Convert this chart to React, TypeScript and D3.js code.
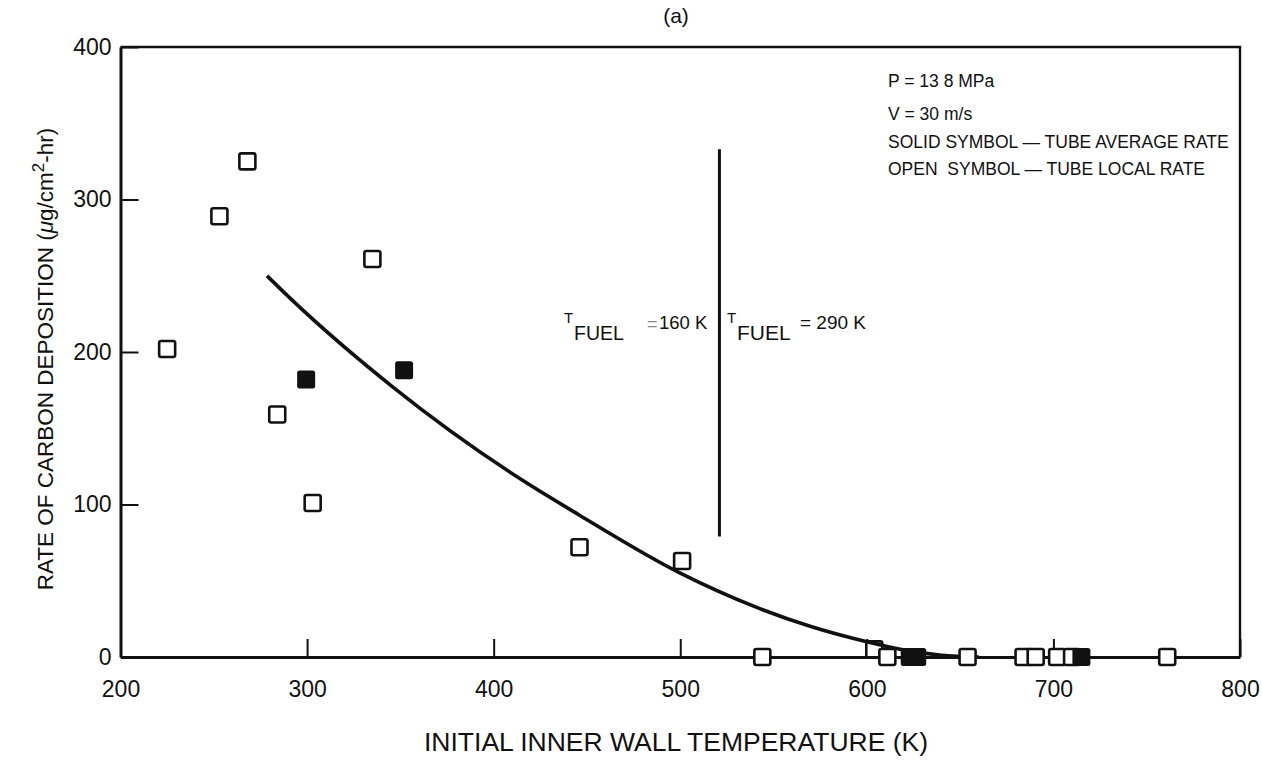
import React, { useEffect, useRef } from 'react'
import * as d3 from 'd3'

// open symbols: tube local rate
const openTemp = [225, 253, 268, 284, 303, 335, 446, 501, 544, 604, 611, 654, 684, 690.5, 702, 710, 761]
const openRate = [202, 289, 325, 159, 101, 261, 72, 63, 0, 5, 0, 0, 0, 0, 0, 0, 0]

// solid symbols: tube average rate
const solidTemp = [299.5, 352, 623, 627, 715]
const solidRate = [182, 188, 0, 0, 0]

// faired curve through the data
const curveTemp = [278.5, 292, 346, 414, 446, 500, 540, 570, 600, 620, 640, 660]
const curveRate = [250, 234, 177, 117, 93, 55, 33, 20, 10, 4.5, 1.2, 0]

const xTicks = [200, 300, 400, 500, 600, 700, 800]
const yTicks = [0, 100, 200, 300, 400]

// fuel temperature divider
const dividerTemp = 521
const dividerRates = [79, 333]

const notes = ['P = 13 8 MPa', 'V = 30 m/s', 'SOLID SYMBOL — TUBE AVERAGE RATE', 'OPEN  SYMBOL — TUBE LOCAL RATE']

const FONT = '"Liberation Sans", Arial, Helvetica, sans-serif'

const App: React.FC = () => {
  const svgRef = useRef<SVGSVGElement>(null)

  useEffect(() => {
    if (!svgRef.current) return
    const svg = d3.select(svgRef.current)
    svg.selectAll('*').remove()

    const left = 120.5, right = 1240, top = 47, bottom = 657

    const x = d3.scaleLinear().domain([200, 800]).range([left, right])
    const y = d3.scaleLinear().domain([0, 400]).range([bottom, top])

    svg.append('rect').attr('width', 1262).attr('height', 760).attr('fill', '#fff')

    // frame (top and right)
    svg.append('path')
      .attr('d', `M${left},${top}H${right}V${bottom}`)
      .attr('fill', 'none')
      .attr('stroke', '#111')
      .attr('stroke-width', 2.4)

    // x axis
    const xAxis = svg.append('g')
      .attr('transform', `translate(0,${bottom})`)
      .call(d3.axisBottom(x).tickValues(xTicks).tickSizeInner(-18).tickSizeOuter(0).tickPadding(24))
    xAxis.select('.domain').attr('stroke', '#111').attr('stroke-width', 3)
    xAxis.selectAll('.tick line').attr('stroke', '#111').attr('stroke-width', 2)
    xAxis.selectAll('.tick text')
      .attr('fill', '#111')
      .style('font-family', FONT)
      .style('font-size', '23px')

    // y axis
    const yAxis = svg.append('g')
      .attr('transform', `translate(${left},0)`)
      .call(d3.axisLeft(y).tickValues(yTicks).tickSizeInner(-18).tickSizeOuter(0).tickPadding(9))
    yAxis.select('.domain').attr('stroke', '#111').attr('stroke-width', 3)
    yAxis.selectAll('.tick line').attr('stroke', '#111').attr('stroke-width', 2)
    yAxis.selectAll('.tick text')
      .attr('fill', '#111')
      .style('font-family', FONT)
      .style('font-size', '23px')

    const s = 16
    const openPt = (sel: any, temps: number[], rates: number[]) =>
      sel.selectAll(null)
        .data(temps)
        .enter()
        .append('rect')
        .attr('x', (d: number) => x(d) - s / 2)
        .attr('y', (d: number, i: number) => y(rates[i]) - s / 2)
        .attr('width', s)
        .attr('height', s)
        .attr('rx', 2)
        .attr('fill', '#fff')
        .attr('stroke', '#111')
        .attr('stroke-width', 2.6)

    // the half-hidden square near 600 K sits under the curve
    openPt(svg.append('g'), openTemp.slice(9, 10), openRate.slice(9, 10))

    // curve
    const line = d3.line<number>()
      .x((d, i) => x(curveTemp[i]))
      .y(d => y(d))
      .curve(d3.curveMonotoneX)
    svg.append('path')
      .datum(curveRate)
      .attr('d', line)
      .attr('fill', 'none')
      .attr('stroke', '#111')
      .attr('stroke-width', 3.6)

    // divider line
    svg.append('line')
      .attr('x1', x(dividerTemp)).attr('x2', x(dividerTemp))
      .attr('y1', y(dividerRates[0])).attr('y2', y(dividerRates[1]))
      .attr('stroke', '#111')
      .attr('stroke-width', 3)

    // open squares
    openPt(svg.append('g'), openTemp.filter((d, i) => i !== 9), openRate.filter((d, i) => i !== 9))

    // solid squares
    const sf = 18
    svg.selectAll('.solid-pt')
      .data(solidTemp)
      .enter()
      .append('rect')
      .attr('class', 'solid-pt')
      .attr('x', d => x(d) - sf / 2)
      .attr('y', (d, i) => y(solidRate[i]) - sf / 2)
      .attr('width', sf)
      .attr('height', sf)
      .attr('rx', 2.5)
      .attr('fill', '#111')

    // title
    svg.append('text')
      .attr('x', 676).attr('y', 23)
      .attr('text-anchor', 'middle')
      .style('font-family', FONT)
      .style('font-size', '21px')
      .attr('fill', '#111')
      .text('(a)')

    // axis labels
    svg.append('text')
      .attr('x', 676).attr('y', 751)
      .attr('text-anchor', 'middle')
      .style('font-family', FONT)
      .style('font-size', '26.5px')
      .attr('fill', '#111')
      .text('INITIAL INNER WALL TEMPERATURE (K)')

    const yl = svg.append('text')
      .attr('transform', 'translate(53,359) rotate(-90)')
      .attr('text-anchor', 'middle')
      .style('font-family', FONT)
      .style('font-size', '22.5px')
      .attr('fill', '#111')
    yl.append('tspan').text('RATE OF CARBON DEPOSITION (')
    yl.append('tspan').style('font-style', 'italic').text('μ')
    yl.append('tspan').text('g/cm')
    yl.append('tspan').attr('dy', -9).style('font-size', '17px').text('2')
    yl.append('tspan').attr('dy', 9).text('-hr)')

    // notes
    svg.selectAll('.note')
      .data(notes)
      .enter()
      .append('text')
      .attr('class', 'note')
      .attr('x', 888)
      .attr('y', (d, i) => [87, 120, 148, 175][i])
      .style('white-space', 'pre')
      .style('font-family', FONT)
      .style('font-size', '17.5px')
      .attr('fill', '#111')
      .text(d => d)

    // T_FUEL labels
    const fuelLabel = (x0: number, fuelSize: number) => {
      const t = svg.append('text')
        .style('font-family', FONT)
        .attr('fill', '#111')
      t.append('tspan').attr('x', x0).attr('y', 323).style('font-size', '15px').text('T')
      t.append('tspan').attr('x', x0 + 10).attr('y', 340).style('font-size', `${fuelSize}px`).text('FUEL')
      return t
    }
    const leftLabel = fuelLabel(564, 19.5)
    leftLabel.append('tspan').attr('x', 647).attr('y', 330).style('font-size', '18px').attr('fill', '#888').text('=')
    leftLabel.append('tspan').attr('x', 659).attr('y', 329).style('font-size', '18.5px').text('160 K')
    const rightLabel = fuelLabel(727, 21)
    rightLabel.append('tspan').attr('x', 800).attr('y', 329).style('font-size', '19px').text('= 290 K')
  }, [])

  return (
    <svg ref={svgRef} width={1262} height={760} style={{ position: 'absolute', left: 0, top: 0 }} />
  )
}

export default App
